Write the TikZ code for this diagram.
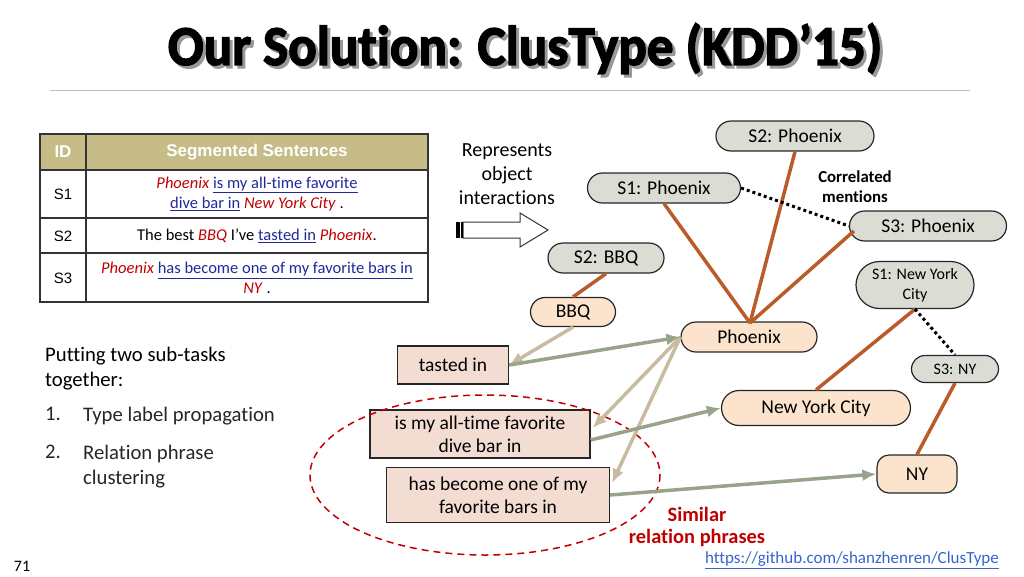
\documentclass[tikz,border=0pt]{standalone}
\usepackage{fontspec}
\setmainfont[Ligatures=NoCommon]{Carlito}
\newfontfamily\arialf{Liberation Sans}
\newfontfamily\titlef[Ligatures=NoCommon,FakeBold=2.5]{Carlito Bold}
\usetikzlibrary{shapes.misc,arrows.meta,calc}
\definecolor{brn}{HTML}{BA5C2A}
\definecolor{tan}{HTML}{C8BBA0}
\definecolor{grn}{HTML}{98A38C}
\definecolor{gfill}{HTML}{DBDDD5}
\definecolor{bfill}{HTML}{FCE4CC}
\definecolor{pfill}{HTML}{F3DDD2}
\definecolor{olive}{HTML}{C5BC88}
\definecolor{dred}{HTML}{C00000}
\definecolor{dblue}{HTML}{1F2A9A}
\definecolor{lblue}{HTML}{3366CC}
\newcommand{\rd}[1]{\textcolor{dred}{\textit{#1}}}
\newcommand{\bu}[1]{\textcolor{dblue}{\underline{#1}}}
\newcommand{\ttl}{\scalebox{1.18}[1.25]{\titlef\fontsize{45}{48}\selectfont Our Solution: ClusType (KDD’15)}}
\tikzset{
  mention/.style={rounded rectangle, draw=black!85, line width=1.2pt, fill=gfill, inner sep=1pt, font=\fontsize{19.5}{21}\selectfont},
  entity/.style={rounded rectangle, draw=black!85, line width=1.2pt, fill=bfill, inner sep=1pt, font=\fontsize{19.5}{21}\selectfont},
  phrase/.style={rectangle, draw=black!85, line width=1.2pt, fill=pfill, inner sep=1pt, align=center, font=\fontsize{19.5}{23}\selectfont},
  blink/.style={draw=brn, line width=3.5pt},
  corr/.style={draw=black, line width=3pt, dash pattern=on 3pt off 3pt},
  tanarr/.style={draw=tan, line width=3.5pt, -{Latex[length=14pt,width=12pt]}},
  grnarr/.style={draw=grn, line width=3.5pt, -{Latex[length=14pt,width=12pt]}},
  cell/.style={font=\fontsize{16.5}{20}\selectfont, align=center, inner sep=0pt},
}
\begin{document}
\begin{tikzpicture}[x=1pt,y=-1pt]
\useasboundingbox (0,0) rectangle (1024,576);
% title (with its shadow in the same node)
\node (title) at (525,50) {\makebox[0pt][l]{\hspace{3pt}\raisebox{-3pt}{\textcolor{black!40}{\ttl}}}\ttl};
\draw[black!25, line width=1pt] (50,90) -- (970,90);
% table
\fill[olive] (40,134) rectangle (428,170);
\draw[black!80, line width=1.3pt] (40,134) rectangle (428,302);
\draw[black!80, line width=1.3pt] (86,134) -- (86,302);
\draw[black!80, line width=1.3pt] (40,170) -- (428,170) (40,218) -- (428,218) (40,253) -- (428,253);
\node[cell, text=white] (hid) at (63,152) {\arialf\bfseries\fontsize{17}{19}\selectfont ID};
\node[cell, text=white] (hseg) at (257,152) {\arialf\bfseries\fontsize{17}{19}\selectfont Segmented Sentences};
\node[cell] (id1) at (63,194) {\arialf\fontsize{15}{17}\selectfont S1};
\node[cell] (id2) at (63,236) {\arialf\fontsize{15}{17}\selectfont S2};
\node[cell] (id3) at (63,278) {\arialf\fontsize{15}{17}\selectfont S3};
\node[cell] (s1) at (257,194) {\rd{Phoenix} \bu{is my all-time favorite}\\ \bu{dive bar in} \rd{New York City} .};
\node[cell] (s2) at (257,236) {The best \rd{BBQ} I’ve \bu{tasted in} \rd{Phoenix}.};
\node[cell] (s3) at (257,278) {\rd{Phoenix} \bu{has become one of my favorite bars in}\\ \rd{NY} .};
% represents
\node[align=center, font=\fontsize{20}{24}\selectfont] (rep) at (507,174) {Represents\\object\\interactions};
\draw[black!80, line width=1pt, fill=white] (463,222) -- (520,222) -- (520,213) -- (548,230) -- (520,247) -- (520,238) -- (463,238) -- cycle;
\fill[black] (456,222) rectangle (460,238);
\fill[black] (461,222) rectangle (463,238);
% mentions
\node[mention, minimum width=160pt, minimum height=30pt] (s2p) at (795,136) {S2: Phoenix};
\node[mention, minimum width=155pt, minimum height=30pt] (s1p) at (664,188) {S1: Phoenix};
\node[mention, minimum width=159pt, minimum height=30pt] (s3p) at (928,226) {S3: Phoenix};
\node[mention, minimum width=118pt, minimum height=30pt] (s2b) at (606,258) {S2: BBQ};
\node[mention, minimum width=120pt, minimum height=47pt, align=center, font=\fontsize{16}{20}\selectfont] (s1n) at (915,285) {S1: New York\\City};
\node[mention, minimum width=89pt, minimum height=27pt, font=\fontsize{16}{17}\selectfont] (s3n) at (955,369) {S3: NY};
% entities
\node[entity, minimum width=87pt, minimum height=29pt] (bbq) at (573,312) {BBQ};
\node[entity, minimum width=138pt, minimum height=30pt] (phx) at (749,337) {Phoenix};
\node[entity, minimum width=191pt, minimum height=35pt] (nyc) at (816,408) {New York City};
\node[rectangle, rounded corners=12pt, draw=black!85, line width=1.2pt, fill=bfill, minimum width=80pt, minimum height=38pt, font=\fontsize{19.5}{21}\selectfont] (ny) at (917,474) {NY};
% phrases
\node[phrase, minimum width=111pt, minimum height=38pt] (tin) at (453,365) {tasted in};
\node[phrase, minimum width=220pt, minimum height=48pt] (ism) at (480,434) {is my all-time favorite\\dive bar in};
\node[phrase, minimum width=223pt, minimum height=55pt] (hbc) at (498,495) {has become one of my\\favorite bars in};
% dashed ellipse
\draw[dred, line width=1.5pt, dash pattern=on 7pt off 5pt] (485,475) ellipse [x radius=175, y radius=80];
% brown links
\coordinate (phxtop) at (750,323);
\draw[blink] (s2p.south) -- (phxtop);
\draw[blink] (s1p.south) -- (phxtop);
\draw[blink] ($(s3p.west)+(5,5)$) -- (phxtop);
\draw[blink] (s2b.south) -- (bbq.north);
\draw[blink] (s1n.south) -- (nyc.north);
\draw[blink] (s3n.south) -- (ny.north);
% correlated
\draw[corr] (s1p.east) -- (s3p.west);
\draw[corr] (s1n.south) -- (s3n.north);
% arrows
\draw[tanarr] (bbq.south) -- (tin.east);
\draw[tanarr] (phx.west) -- ($(ism.east)+(2,-6)$);
\draw[tanarr] (phx.west) -- ($(hbc.east)+(2,-12)$);
\draw[grnarr] (tin.east) -- (phx.west);
\draw[grnarr] ($(ism.east)+(0,6)$) -- (nyc.west);
\draw[grnarr] (hbc.east) -- (ny.west);
% labels
\node[align=center, font=\fontsize{16.8}{20}\selectfont\bfseries] (cm) at (855,187) {Correlated\\mentions};
\node[align=center, text=dred, font=\fontsize{20.4}{22}\selectfont\bfseries] (sim) at (697,527) {Similar\\relation phrases};
\node[text=lblue, font=\fontsize{17}{19}\selectfont] (url) at (852,560) {\underline{https://github.com/shanzhenren/ClusType}};
\node[font=\fontsize{16}{18}\selectfont] (pg) at (22,566) {71};
% left text
\node[anchor=north west, inner sep=0pt, align=left, font=\fontsize{20.7}{25}\selectfont] (put) at (45,347) {Putting two sub-tasks\\together:};
\node[anchor=north west, inner sep=0pt, font=\fontsize{20.7}{22}\selectfont, text=black!85] (n1) at (45,407) {1.};
\node[anchor=north west, inner sep=0pt, font=\fontsize{20.7}{22}\selectfont, text=black!85] (t1) at (83,407) {Type label propagation};
\node[anchor=north west, inner sep=0pt, font=\fontsize{20.7}{22}\selectfont, text=black!85] (n2) at (45,445) {2.};
\node[anchor=north west, inner sep=0pt, align=left, font=\fontsize{20.7}{25}\selectfont, text=black!85] (t2) at (83,445) {Relation phrase\\clustering};
\end{tikzpicture}
\end{document}
